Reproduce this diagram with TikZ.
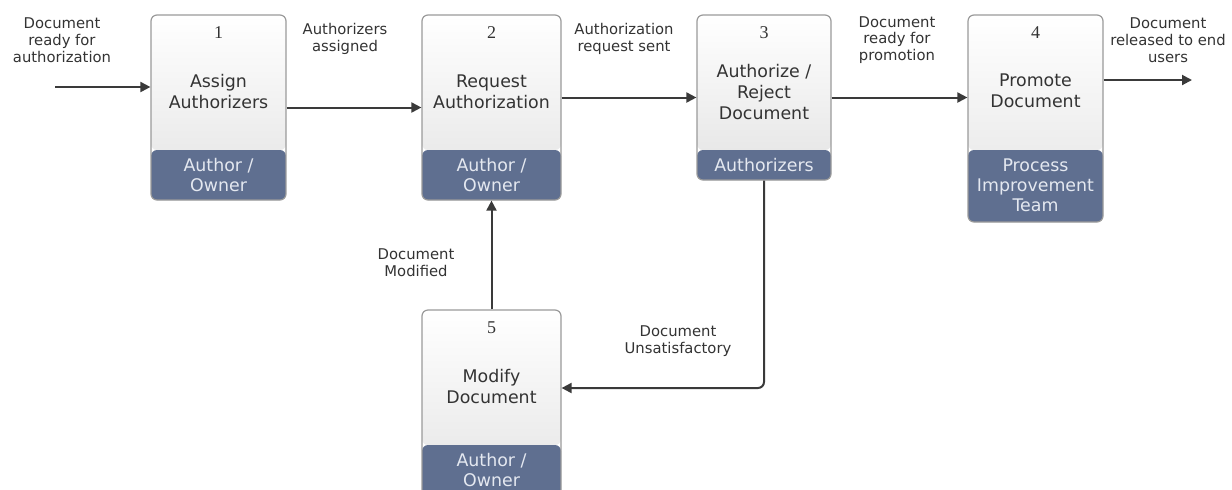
\documentclass[tikz,border=0pt]{standalone}
\usepackage{fontspec}
\setmainfont{DejaVu Sans}
\newfontfamily\numfont{Liberation Serif}
\usetikzlibrary{arrows.meta,fit}
\definecolor{band}{HTML}{5F6F90}
\definecolor{bandtxt}{HTML}{E4E8F0}
\definecolor{edge}{HTML}{9A9A9A}
\definecolor{ink}{HTML}{333333}
\definecolor{wire}{HTML}{3A3A3A}
\tikzset{
  box/.style={draw=edge, line width=0.6pt, rounded corners=3pt, inner sep=0pt,
    path picture={
      \shade[top color=white,bottom color=black!11]
        (path picture bounding box.north west) rectangle ([yshift=-67.5pt]path picture bounding box.north east);
      \fill[band] ([yshift=-67.5pt]path picture bounding box.north west) rectangle (path picture bounding box.south east);
    }},
  numtext/.style={font=\numfont\fontsize{9}{10}\selectfont, text=ink, inner sep=0pt},
  titletext/.style={font=\fontsize{8.7}{10.5}\selectfont, align=center, text=ink, inner sep=0pt},
  roletext/.style={font=\fontsize{8.7}{10}\selectfont, align=center, text=bandtxt, inner sep=0pt},
  lbl/.style={font=\fontsize{7.4}{8.4}\selectfont, align=center, text=ink, inner sep=0pt},
  flow/.style={draw=wire, line width=1pt, -{Triangle[length=5pt,width=5pt]}},
}
\begin{document}
\begin{tikzpicture}[x=0.5pt,y=-0.5pt]
\useasboundingbox (0,0) rectangle (1232,489);

% boxes
\node[box, fit={(151,15) (286,200)}] (b1) {};
\node[box, fit={(422,15) (561,200)}] (b2) {};
\node[box, fit={(697,15) (831,180)}] (b3) {};
\node[box, fit={(968,15) (1103,222)}] (b4) {};
\node[box, fit={(422,310) (561,500)}] (b5) {};

% numbers
\node[numtext] (n1) at (218.5,33) {1};
\node[numtext] (n2) at (491.5,33) {2};
\node[numtext] (n3) at (764,33) {3};
\node[numtext] (n4) at (1035.5,33) {4};
\node[numtext] (n5) at (491.5,328) {5};

% titles
\node[titletext] (t1) at (218.5,92) {Assign\\Authorizers};
\node[titletext] (t2) at (491.5,92) {Request\\Authorization};
\node[titletext] (t3) at (764,92) {Authorize /\\Reject\\Document};
\node[titletext] (t4) at (1035.5,91) {Promote\\Document};
\node[titletext] (t5) at (491.5,387) {Modify\\Document};

% roles
\node[roletext] (r1) at (218.5,175) {Author /\\Owner};
\node[roletext] (r2) at (491.5,175) {Author /\\Owner};
\node[roletext] (r3) at (764,165) {Authorizers};
\node[roletext] (r4) at (1035.5,185) {Process\\Improvement\\Team};
\node[roletext] (r5) at (491.5,470) {Author /\\Owner};

% connectors
\coordinate (in) at (55,87);
\coordinate (out) at (1192,80);
\coordinate (c5) at (765,388);
\draw[flow] (in) -- (in -| b1.west);
\draw[flow] (b1.east) -- (b2.west);
\draw[flow] (b2.east |- b3.west) -- (b3.west);
\draw[flow] (b3.east) -- (b4.west |- b3.east);
\draw[flow] (b4.east |- out) -- (out);
\draw[flow, rounded corners=3pt] (b3.south) |- (b5.east |- c5);
\draw[flow] (b5.north) -- (b2.south);

% labels
\node[lbl] (l0) at (62,40) {Document\\ready for\\authorization};
\node[lbl] (l1) at (345,39) {Authorizers\\assigned};
\node[lbl] (l2) at (624,39) {Authorization\\request sent};
\node[lbl] (l3) at (897,40) {Document\\ready for\\promotion};
\node[lbl] (l4) at (1168,40) {Document\\released to end\\users};
\node[lbl] (l5) at (416,263) {Document\\Modified};
\node[lbl] (l6) at (678,341) {Document\\Unsatisfactory};
\end{tikzpicture}
\end{document}
